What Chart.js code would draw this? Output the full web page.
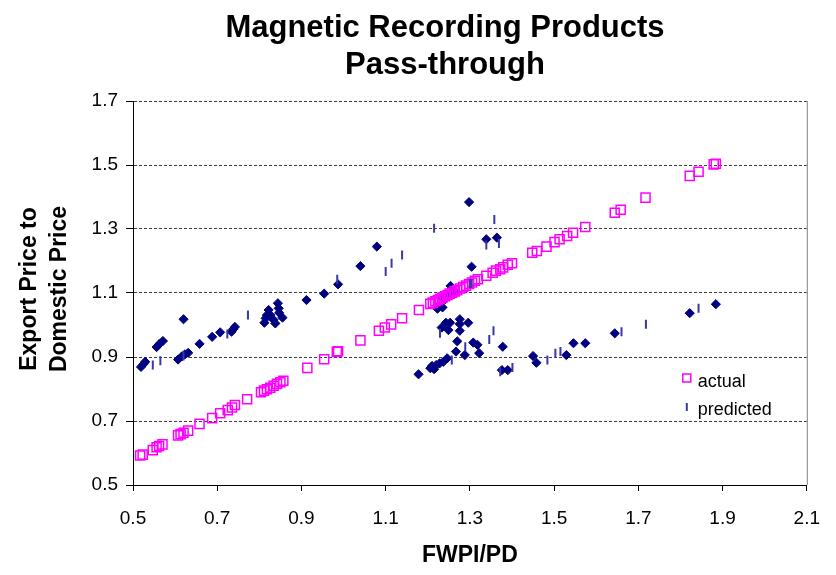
<!DOCTYPE html>
<html>
<head>
<meta charset="utf-8">
<script src="https://cdn.jsdelivr.net/npm/chart.js@4.4.0/dist/chart.umd.min.js"></script>
<style>
  html, body { margin: 0; padding: 0; background: #fff; }
  #chart { display: block; }
</style>
</head>
<body>
<canvas id="chart" width="836" height="575"></canvas>
<script>
// FWPI/PD (x) against export-to-domestic price ratio (y)
const actualX = [0.517, 0.523, 0.547, 0.556, 0.562, 0.570, 0.607, 0.613, 0.620, 0.631,
  0.658, 0.688, 0.707, 0.725, 0.735, 0.742, 0.771, 0.804, 0.811, 0.818,
  0.826, 0.834, 0.842, 0.850, 0.857, 0.914, 0.954, 0.984, 0.987, 1.040,
  1.084, 1.098, 1.113, 1.139, 1.179, 1.206, 1.212,
  1.218, 1.224, 1.229, 1.235, 1.241, 1.247, 1.252, 1.258, 1.264, 1.270,
  1.277, 1.284, 1.291, 1.298, 1.305, 1.312,
  1.319, 1.339, 1.354, 1.362, 1.372, 1.379, 1.390, 1.400, 1.448, 1.459,
  1.482, 1.501, 1.513, 1.531, 1.545, 1.574, 1.644, 1.658, 1.717, 1.822,
  1.843, 1.879, 1.884];
const actualY = [0.592, 0.595, 0.609, 0.618, 0.622, 0.627, 0.655, 0.659, 0.663, 0.670,
  0.691, 0.709, 0.724, 0.734, 0.742, 0.750, 0.768, 0.790, 0.795, 0.799,
  0.804, 0.810, 0.816, 0.821, 0.826, 0.866, 0.893, 0.916, 0.918, 0.952,
  0.982, 0.992, 1.002, 1.021, 1.047, 1.066, 1.070,
  1.074, 1.078, 1.082, 1.086, 1.090, 1.094, 1.098, 1.101, 1.105, 1.109,
  1.114, 1.119, 1.123, 1.128, 1.133, 1.138,
  1.143, 1.154, 1.163, 1.170, 1.174, 1.180, 1.188, 1.193, 1.226, 1.231,
  1.245, 1.259, 1.268, 1.278, 1.288, 1.306, 1.351, 1.360, 1.398, 1.466,
  1.479, 1.502, 1.504];

const predictedX = [0.547, 0.565, 0.620, 0.724, 0.773, 0.985, 1.100, 1.114, 1.139, 1.215,
  1.229, 1.257, 1.289, 1.300, 1.304, 1.339, 1.346, 1.356, 1.358, 1.369,
  1.372, 1.401, 1.484, 1.503, 1.515, 1.660, 1.718, 1.843];
const predictedY = [0.875, 0.888, 0.903, 0.972, 1.031, 1.143, 1.167, 1.193, 1.219, 1.302,
  0.974, 0.891, 0.932, 1.130, 1.130, 1.250, 0.955, 0.982, 1.330, 1.255,
  0.854, 0.867, 0.891, 0.912, 0.917, 0.979, 1.002, 1.052];

// observations plotted without a legend entry
const fittedX = [0.519, 0.525, 0.529, 0.556, 0.562, 0.571, 0.607, 0.616, 0.620, 0.623,
  0.631, 0.658, 0.688, 0.707, 0.734, 0.738, 0.742, 0.812, 0.815, 0.818,
  0.822, 0.826, 0.834, 0.838, 0.844, 0.846, 0.847, 0.855, 0.912, 0.954,
  0.987, 1.040, 1.079, 1.178, 1.206, 1.210, 1.215, 1.220, 1.223, 1.228,
  1.233, 1.235, 1.235, 1.237, 1.241, 1.243, 1.243, 1.246, 1.249, 1.253,
  1.253, 1.254, 1.264, 1.267, 1.270, 1.276, 1.276, 1.276, 1.288, 1.296,
  1.298, 1.304, 1.308, 1.318, 1.322, 1.339, 1.364, 1.376, 1.378, 1.390,
  1.450, 1.458, 1.529, 1.546, 1.574, 1.644, 1.822, 1.884];
const fittedY = [0.869, 0.878, 0.885, 0.931, 0.940, 0.950, 0.892, 0.902, 1.018, 0.908,
  0.913, 0.941, 0.963, 0.977, 0.979, 0.987, 0.994, 1.007, 1.021, 1.031,
  1.047, 1.031, 1.016, 1.005, 1.068, 1.052, 1.038, 1.023, 1.078, 1.098,
  1.127, 1.184, 1.245, 0.846, 0.865, 0.872, 0.862, 0.875, 1.051, 0.880,
  0.992, 1.055, 1.083, 0.885, 1.080, 1.007, 1.094, 0.896, 0.984, 1.007,
  1.099, 1.122, 1.104, 0.917, 0.949, 1.018, 1.003, 0.982, 0.906, 1.007,
  1.384, 1.182, 0.945, 0.938, 0.912, 1.268, 1.273, 0.859, 0.932, 0.859,
  0.903, 0.882, 0.906, 0.943, 0.943, 0.974, 1.037, 1.065];

const xTicks = [0.5, 0.7, 0.9, 1.1, 1.3, 1.5, 1.7, 1.9, 2.1];
const yTicks = [0.5, 0.7, 0.9, 1.1, 1.3, 1.5, 1.7];

const titleLines = ['Magnetic Recording Products', 'Pass-through'];
const yTitleLines = ['Export Price to', 'Domestic Price'];
const xTitle = 'FWPI/PD';

const FONT = "'Liberation Sans', Arial, sans-serif";
const MAGENTA = '#ff00ff';
const NAVY = '#000080';
const DASH_BLUE = '#3838a8';

const toPoints = (xs, ys) => xs.map((x, i) => ({ x: x, y: ys[i] }));

// titles, legend and the right frame edge are drawn by hand
const decorations = {
    id: 'decorations',
    afterDraw(chart) {
        const { ctx, chartArea } = chart;
        ctx.save();

        ctx.strokeStyle = '#808080';
        ctx.lineWidth = 1;
        ctx.beginPath();
        ctx.moveTo(chartArea.right + 0.5, chartArea.top);
        ctx.lineTo(chartArea.right + 0.5, chartArea.bottom);
        ctx.stroke();

        ctx.fillStyle = '#000';
        ctx.textAlign = 'center';
        ctx.textBaseline = 'middle';
        ctx.font = `bold 31px ${FONT}`;
        ctx.fillText(titleLines[0], 445, 28);
        ctx.fillText(titleLines[1], 445, 65);

        ctx.font = `bold 23px ${FONT}`;
        ctx.fillText(xTitle, (chartArea.left + chartArea.right) / 2, 556);

        ctx.save();
        ctx.translate(30, (chartArea.top + chartArea.bottom) / 2 - 4);
        ctx.rotate(-Math.PI / 2);
        ctx.fillText(yTitleLines[0], 0, 0);
        ctx.fillText(yTitleLines[1], 0, 30);
        ctx.restore();

        // legend
        const lx = chartArea.right - 120;
        const ly = chartArea.top + 277;
        ctx.strokeStyle = MAGENTA;
        ctx.lineWidth = 1.5;
        ctx.strokeRect(lx - 4, ly - 4, 8, 8);
        ctx.strokeStyle = DASH_BLUE;
        ctx.lineWidth = 2;
        ctx.beginPath();
        ctx.moveTo(lx, ly + 25);
        ctx.lineTo(lx, ly + 33);
        ctx.stroke();

        ctx.fillStyle = '#000';
        ctx.textAlign = 'left';
        ctx.font = `18px ${FONT}`;
        ctx.fillText('actual', lx + 11, ly + 4);
        ctx.fillText('predicted', lx + 11, ly + 32);
        ctx.restore();
    }
};

new Chart(document.getElementById('chart'), {
    type: 'scatter',
    data: {
        datasets: [
            {
                label: 'predicted',
                data: toPoints(predictedX, predictedY),
                pointStyle: 'line',
                rotation: 90,
                radius: 4.5,
                borderWidth: 2,
                borderColor: DASH_BLUE,
                backgroundColor: DASH_BLUE,
            },
            {
                label: 'actual',
                data: toPoints(actualX, actualY),
                pointStyle: 'rect',
                radius: 6.4,
                borderWidth: 1.5,
                borderColor: MAGENTA,
                backgroundColor: 'rgba(0,0,0,0)',
            },
            {
                label: 'fitted',
                data: toPoints(fittedX, fittedY),
                pointStyle: 'rectRot',
                radius: 4.6,
                borderWidth: 1,
                borderColor: NAVY,
                backgroundColor: NAVY,
            }
        ]
    },
    options: {
        responsive: false,
        animation: false,
        layout: { padding: { top: 101, left: 0, right: 22, bottom: 0 } },
        plugins: {
            legend: { display: false },
            title: { display: false },
            tooltip: { enabled: false },
        },
        scales: {
            x: {
                type: 'linear',
                min: xTicks[0],
                max: xTicks[xTicks.length - 1],
                afterFit: (scale) => { scale.height = 90; },
                afterBuildTicks: (scale) => { scale.ticks = xTicks.map(v => ({ value: v })); },
                ticks: {
                    color: '#000',
                    font: { family: FONT, size: 19 },
                    padding: 16,
                    callback: (v) => v.toFixed(1),
                    maxRotation: 0,
                },
                grid: {
                    drawOnChartArea: false,
                    drawTicks: true,
                    tickLength: 6,
                    tickColor: '#000',
                },
                border: { color: '#000', width: 1 },
            },
            y: {
                type: 'linear',
                min: yTicks[0],
                max: yTicks[yTicks.length - 1],
                afterFit: (scale) => { scale.width = 133; },
                afterBuildTicks: (scale) => { scale.ticks = yTicks.map(v => ({ value: v })); },
                ticks: {
                    color: '#000',
                    font: { family: FONT, size: 19 },
                    padding: 8,
                    callback: (v) => v.toFixed(1),
                },
                grid: {
                    color: '#404040',
                    lineWidth: 1,
                    tickLength: 7,
                    tickColor: '#000',
                    tickBorderDash: [],
                },
                border: { color: '#000', width: 1, dash: [3, 2] },
            }
        }
    },
    plugins: [decorations]
});
</script>
</body>
</html>
